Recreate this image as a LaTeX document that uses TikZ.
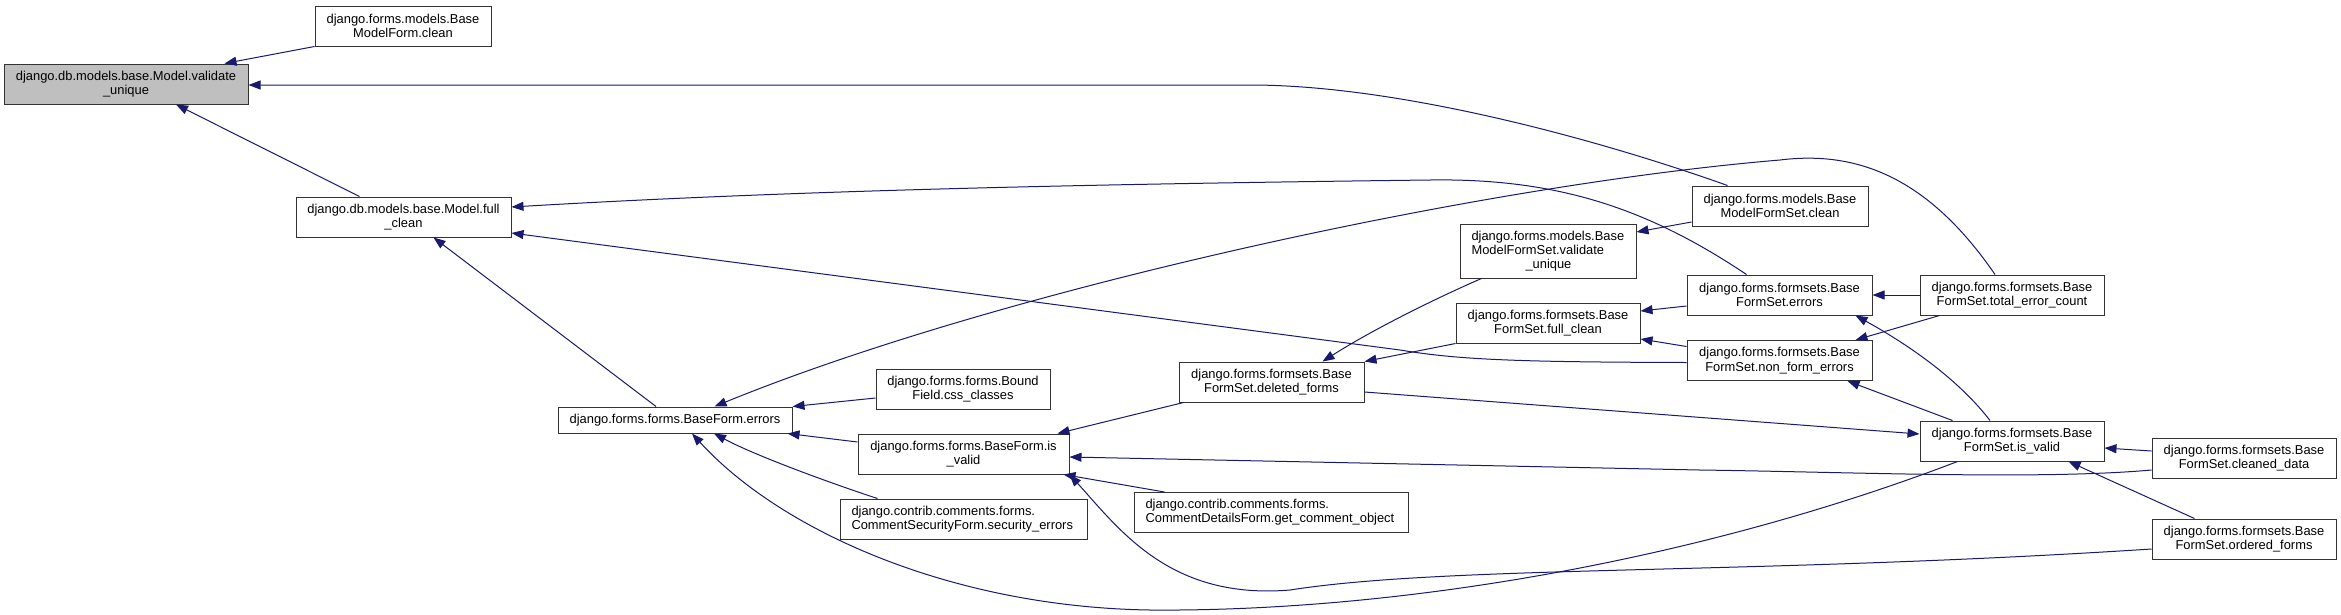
\documentclass[tikz,border=0pt]{standalone}
\usepackage{fontspec}
\setmainfont{Liberation Sans}
\usetikzlibrary{arrows.meta,calc}
\definecolor{edgeblue}{HTML}{191970}
\definecolor{boxgray}{HTML}{BFBFBF}

\begin{document}
\begin{tikzpicture}[x=1pt, y=-1pt, >={Triangle[length=12pt,width=9pt]},
    fn/.style={draw=black!80, line width=1pt, fill=white, minimum height=40pt,
      inner xsep=6pt, inner ysep=1pt, align=center,
      font=\fontsize{12.9pt}{14.3pt}\selectfont},
    lfn/.style={fn, align=left, inner xsep=11.5pt},
    call/.style={->, draw=edgeblue, line width=1pt}]
    \fill[white] (0,0) rectangle (2341,614);
    \useasboundingbox (0,0) rectangle (2341,614);

    % 被调用的函数
    \node[fn, fill=boxgray, minimum width=244pt] (VU) at (126,84) {django.db.models.base.Model.validate\\\_unique};
    \node[fn, minimum width=176pt] (BMFc) at (403,26) {django.forms.models.Base\\ModelForm.clean};
    \node[fn, minimum width=215pt] (MFC) at (403.5,217) {django.db.models.base.Model.full\\\_clean};
    \node[fn, minimum width=234pt, minimum height=26pt] (BFE) at (675,420) {django.forms.forms.BaseForm.errors};
    \node[fn, minimum width=174pt] (BFcss) at (963,389) {django.forms.forms.Bound\\Field.css\_classes};
    \node[fn, minimum width=211pt] (BFiv) at (963.5,454) {django.forms.forms.BaseForm.is\\\_valid};
    \node[lfn, text width=224pt] (CSF) at (963.5,519) {django.contrib.comments.forms.\\CommentSecurityForm.security\_errors};
    \node[lfn, text width=153pt, minimum height=54pt] (BMFSvu) at (1548,251) {django.forms.models.Base\\ModelFormSet.validate\\\hspace*{54pt}\_unique};
    \node[fn, minimum width=184pt] (BFSfc) at (1548,323) {django.forms.formsets.Base\\FormSet.full\_clean};
    \node[fn, minimum width=185pt] (BFSdf) at (1271.5,382) {django.forms.formsets.Base\\FormSet.deleted\_forms};
    \node[lfn, text width=251pt] (CDF) at (1271,512.5) {django.contrib.comments.forms.\\CommentDetailsForm.get\_comment\_object};
    \node[fn, minimum width=176pt] (BMFSc) at (1780,206) {django.forms.models.Base\\ModelFormSet.clean};
    \node[fn, minimum width=185pt] (BFSerr) at (1779.5,295) {django.forms.formsets.Base\\FormSet.errors};
    \node[fn, minimum width=185pt] (BFSnfe) at (1779.5,360.5) {django.forms.formsets.Base\\FormSet.non\_form\_errors};
    \node[fn, minimum width=184pt] (BFStec) at (2012,295) {django.forms.formsets.Base\\FormSet.total\_error\_count};
    \node[fn, minimum width=184pt] (BFSiv) at (2012,441) {django.forms.formsets.Base\\FormSet.is\_valid};
    \node[fn, minimum width=184pt] (BFScd) at (2244,458) {django.forms.formsets.Base\\FormSet.cleaned\_data};
    \node[fn, minimum width=184pt] (BFSof) at (2244,539) {django.forms.formsets.Base\\FormSet.ordered\_forms};

    % 调用关系
    \draw[call] (BMFc.south west) -- ($(VU.north east)+(-24,0)$);
    \draw[call] ($(BMFSc.north west)+(36,0)$) .. controls (1600,140) and (1400,85) .. (1250,85) -- ($(VU.east)+(0,1)$);
    \draw[call] ($(MFC.north west)+(64,0)$) -- ($(VU.south)+(50,0)$);
    \draw[call] ($(BFE.north)+(-19,0)$) -- ($(MFC.south)+(30,0)$);
    \draw[call] ($(BFSerr.north west)+(60,0)$) .. controls (1650,210) and (1560,178) .. (1430,180) .. controls (1100,184) and (800,190) .. ($(MFC.east)+(0,-10)$);
    \draw[call] ($(BFSnfe.west)+(0,2)$) .. controls (1520,362) and (1460,360) .. (1400,350) -- ($(MFC.east)+(0,16)$);

    \draw[call] ($(BFStec.north)+(-17,0)$) .. controls (1930,180) and (1860,150) .. (1780,160) .. controls (1480,185) and (1000,290) .. ($(BFE.north east)+(-78,0)$);
    \draw[call] ($(BFcss.west)+(0,9)$) -- (BFE.north east);
    \draw[call] ($(BFiv.west)+(0,-12)$) -- ($(BFE.south east)+(-5,0)$);
    \draw[call] ($(CSF.north west)+(38,0)$) .. controls (845,488) and (760,458) .. ($(BFE.south)+(39,0)$);
    \draw[call] ($(BFSiv.south west)+(38,0)$) .. controls (1700,560) and (1400,612) .. (1150,610) .. controls (950,607) and (780,530) .. ($(BFE.south)+(17,0)$);

    \draw[call] ($(BFSof.west)+(0,10)$) .. controls (1750,575) and (1450,565) .. (1290,590) .. controls (1170,600) and (1120,530) .. (BFiv.south east);
    \draw[call] ($(BFScd.west)+(0,12)$) .. controls (2040,480) and (1850,472) .. (1700,470) -- ($(BFiv.east)+(0,3)$);
    \draw[call] ($(CDF.north west)+(31,0)$) -- ($(BFiv.south east)+(-6,0)$);
    \draw[call] ($(BFSdf.south west)+(5,0)$) -- ($(BFiv.north east)+(-12,0)$);

    \draw[call] ($(BMFSvu.south west)+(22,0)$) .. controls (1450,292) and (1380,325) .. ($(BFSdf.north)+(51,0)$);
    \draw[call] (BFSfc.south west) -- (BFSdf.north east);
    \draw[call] ($(BFSdf.east)+(0,10)$) -- ($(BFSiv.west)+(0,-7)$);
    \draw[call] ($(BMFSc.west)+(0,16)$) -- ($(BMFSvu.east)+(0,-19)$);
    \draw[call] ($(BFSerr.west)+(0,11)$) -- ($(BFSfc.east)+(0,-12)$);
    \draw[call] ($(BFSnfe.west)+(0,-14)$) -- ($(BFSfc.east)+(0,16)$);

    \draw[call] (BFStec) -- (BFSerr);
    \draw[call] ($(BFStec.south west)+(20,0)$) -- ($(BFSnfe.north east)+(-17,0)$);
    \draw[call] ($(BFSiv.north)+(-22,0)$) .. controls (1955,375) and (1900,340) .. ($(BFSerr.south east)+(-17,0)$);
    \draw[call] ($(BFSiv.north west)+(33,0)$) -- ($(BFSnfe.south east)+(-25,0)$);
    \draw[call] ($(BFScd.west)+(0,-7)$) -- ($(BFSiv.east)+(0,7)$);
    \draw[call] ($(BFSof.north west)+(43,0)$) -- ($(BFSiv.south east)+(-36,0)$);
\end{tikzpicture}
\end{document}
